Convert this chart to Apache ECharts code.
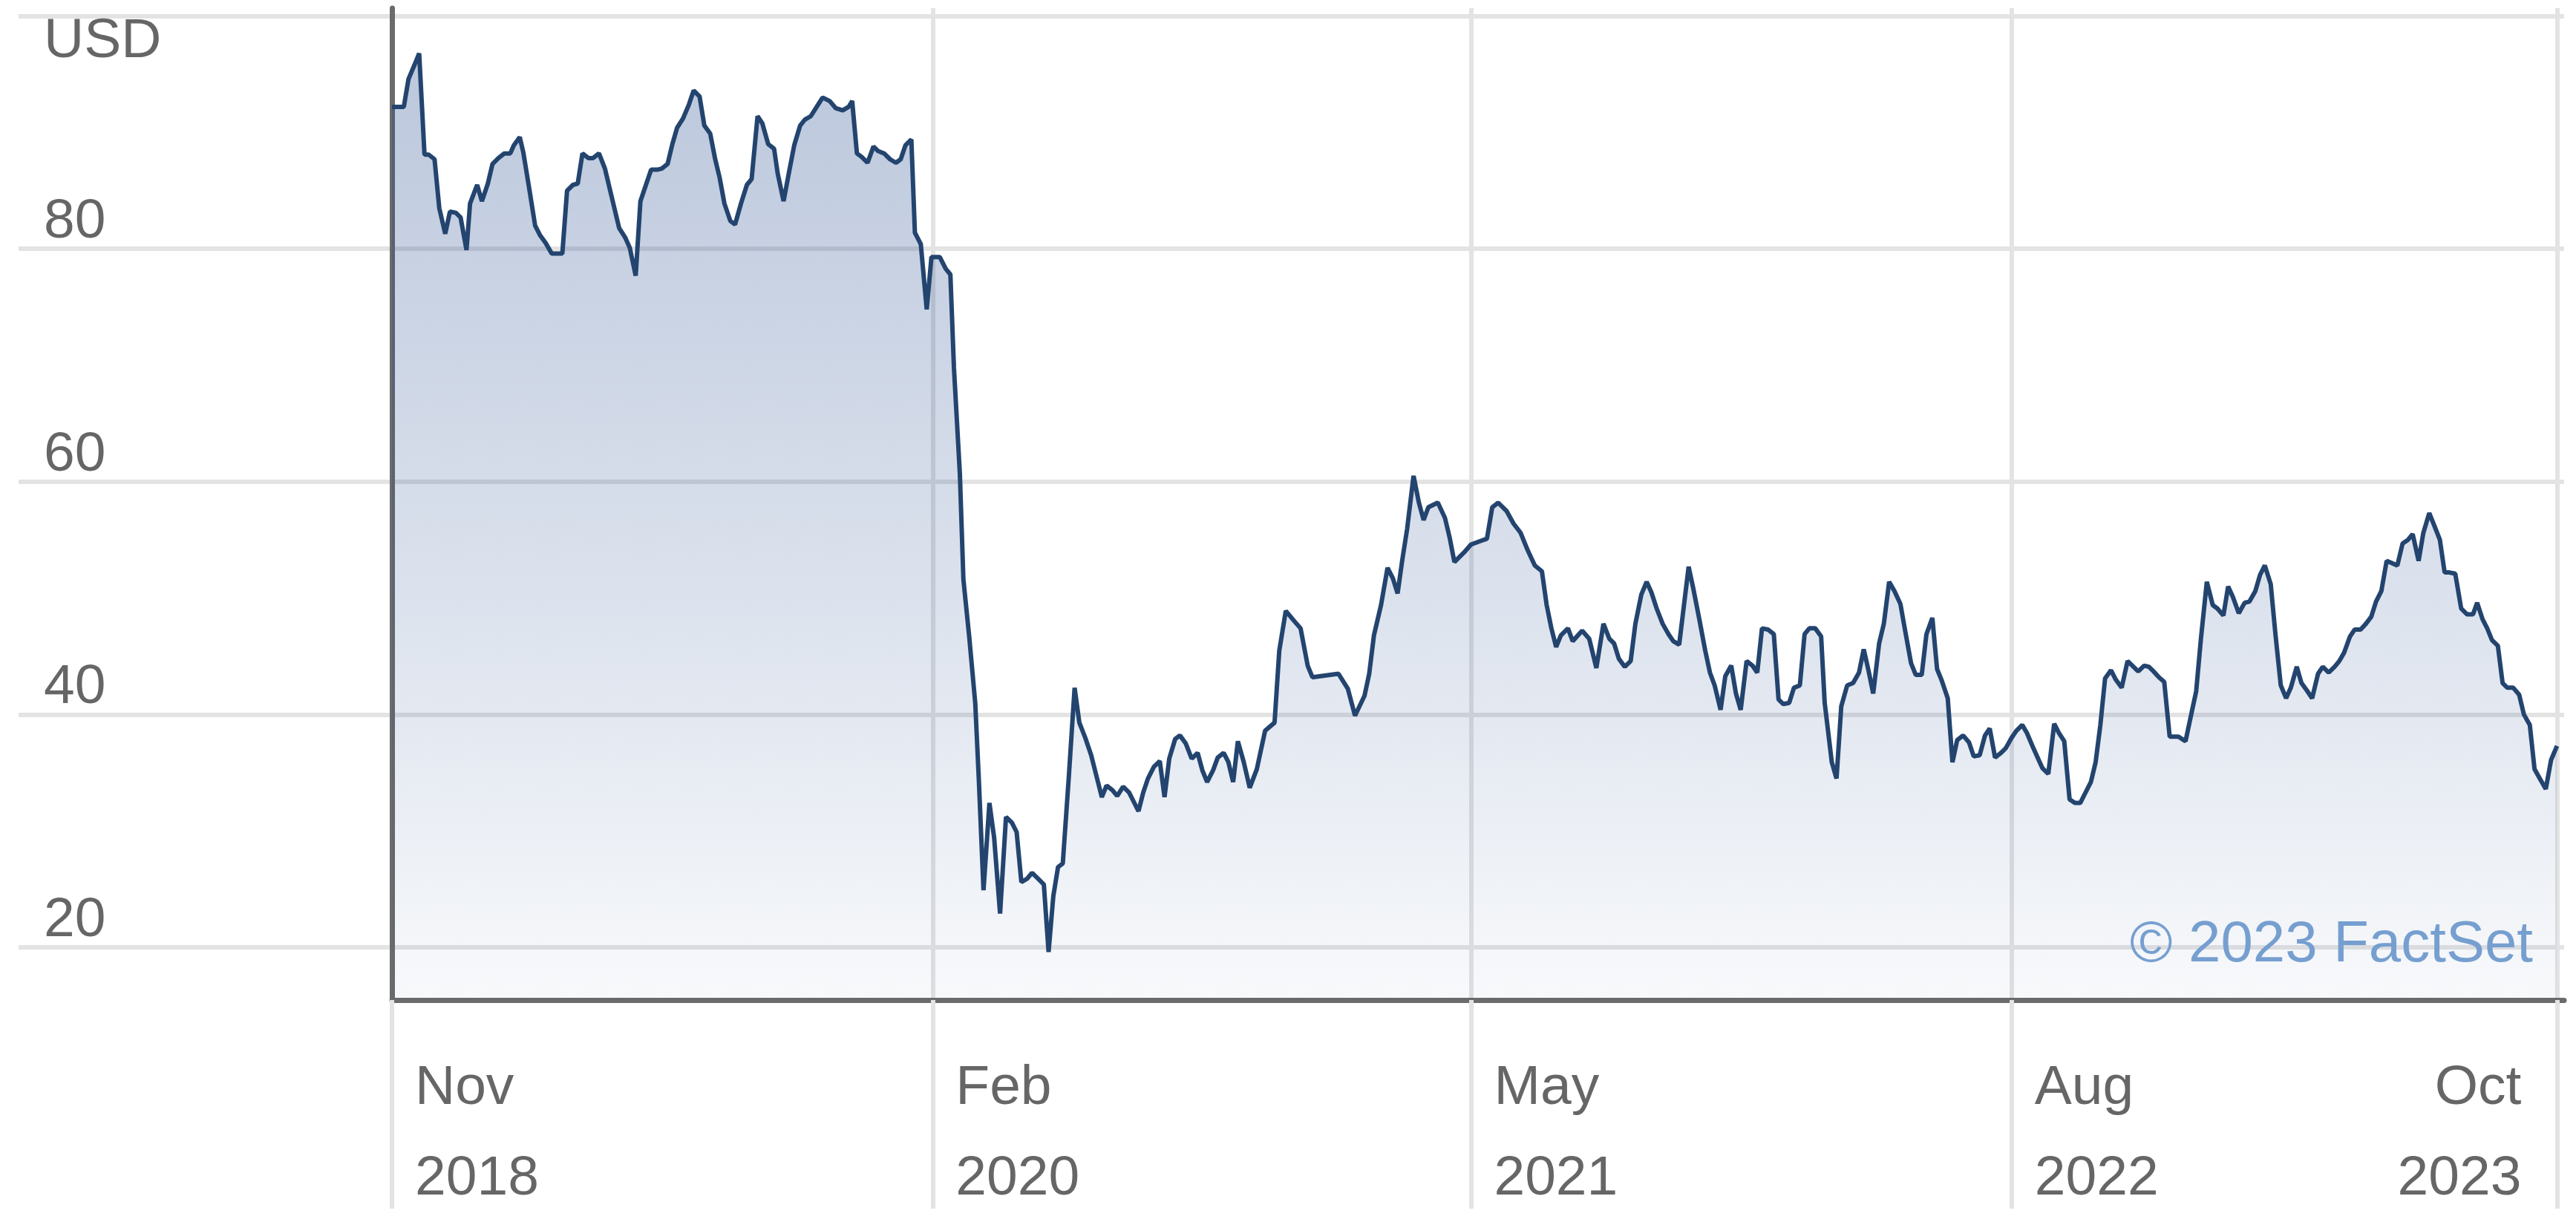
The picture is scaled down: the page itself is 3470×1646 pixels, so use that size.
<!DOCTYPE html>
<html>
<head>
<meta charset="utf-8">
<script src="https://cdn.jsdelivr.net/npm/echarts@6/dist/echarts.min.js"></script>
<style>
html,body{margin:0;padding:0;background:#ffffff;}
#chart{width:3470px;height:1646px;}
</style>
</head>
<body>
<div id="chart"></div>
<script>
// ---- axis ticks / labels ----
const xTickDays   = [0, 457, 912, 1369];              // days after 1 Nov 2018
const xTickLabels = ['Nov\n2018', 'Feb\n2020', 'May\n2021', 'Aug\n2022'];
const xEndDay     = 1830;
const xEndLabel   = 'Oct\n2023';
const yTicks      = [20, 40, 60, 80];
const yUnitTick   = 100;
const yUnitLabel  = 'USD';
const creditText  = '\u00A9 2023 FactSet';

// ---- price series: [days after 1 Nov 2018, USD] ----
const prices2019 = [[0,92.2],[10,92.2],[14,94.6],[19,95.8],[23,96.8],[27.5,88.1],[31,88.1],[36,87.7],[40,83.5],[45,81.3],[49,83.2],[54,83.1],[58,82.7],[63,79.9],[66,83.9],[72,85.5],[76,84.1],[81,85.6],[85,87.3],[90,87.8],[95,88.2],[100,88.2],[103,88.9],[108,89.6],[111,88.3],[116,85.2],[121,82.0],[125,81.2],[130,80.5],[135,79.6],[144,79.6],[148,85.0],[153,85.5],[157,85.6],[161,88.2],[166,87.8],[170,87.8],[175,88.2],[180,86.9],[184,85.2],[188,83.5],[192,81.8],[197,81.0],[201,80.1],[206,77.7],[210,84.1],[215,85.6],[219,86.8],[224,86.8],[228,86.9],[233,87.3],[237,89.0],[241,90.4],[246,91.2],[251,92.4],[255,93.6],[260,93.1],[264,90.6],[269,89.9],[273,87.8],[277,86.1],[281,83.9],[286,82.4],[290,82.1],[295,83.9],[300,85.5],[304,86.0],[309,91.4],[313,90.8],[318,89.0],[323,88.6],[326,86.5],[331,84.1],[336,86.8],[340,88.9],[345,90.6],[349,91.1],[354,91.4],[359,92.2],[364,93.0]];
const prices2020 = [[370,92.7],[375,92.1],[381,91.9],[386,92.2],[389,92.7],[393,88.2],[397,87.9],[402,87.4],[407,88.8],[411,88.4],[416,88.2],[421,87.7],[426,87.4],[430,87.7],[434,88.9],[439,89.4],[442,81.4],[447,80.4],[452,74.8],[456,79.3],[463,79.3],[468,78.3],[472,77.8],[475,69.8],[480,60.7],[483,51.6],[488,46.6],[493,41.0],[496,34.5],[500,24.9],[505,32.4],[509,29.4],[514,22.9],[519,31.2],[524,30.7],[528,29.9],[532,25.6],[537,25.9],[541,26.4],[546,25.9],[551,25.4],[555,19.6],[559,24.4],[563,26.9],[567,27.2],[572,34.5],[577,42.3],[581,39.3],[586,38.0],[591,36.5],[596,34.5],[600,32.9],[604,33.9],[609,33.5],[613,33.0],[618,33.8],[623,33.3],[627,32.5],[631,31.7],[635,33.3],[639,34.5],[644,35.5],[649,36.0],[653,32.9],[657,36.2],[662,37.9],[666,38.2],[671,37.5],[676,36.2],[681,36.7],[685,35.2],[689,34.2],[694,35.2],[698,36.3],[703,36.7],[707,35.9],[711,34.2],[715,37.7],[720,35.9],[725,33.7],[731,35.3]];
const prices2021 = [[738,38.6],[746,39.3],[750,45.5],[755.5,48.9],[762,48.1],[768,47.4],[774,44.2],[778,43.2],[800,43.5],[808,42.2],[814,39.9],[822,41.6],[826,43.5],[830,46.8],[836,49.4],[841.5,52.6],[846,51.7],[850,50.4],[854,53.3],[858,55.9],[863.5,60.5],[868,58.2],[872,56.7],[876,57.8],[884,58.2],[890,56.9],[894,55.2],[898,53.1],[906,53.9],[912,54.6],[920,54.9],[925.5,55.1],[930,57.8],[935,58.2],[942,57.5],[948,56.4],[954,55.6],[960,54.1],[966,52.8],[972,52.3],[976,49.4],[980,47.4],[984,45.8],[988,46.8],[994,47.4],[998,46.3],[1006,47.2],[1012,46.5],[1018,44.0],[1024,47.8],[1029,46.5],[1033,46.1],[1037,44.8],[1042,44.1],[1047,44.6],[1051,47.8],[1056,50.3],[1060.5,51.4],[1064.5,50.5],[1069,49.1],[1074,47.8],[1079,46.9],[1083,46.3],[1088,46.0],[1096,52.7],[1100,50.8],[1105,48.2],[1110,45.5],[1114,43.6],[1118,42.5],[1123,40.4],[1127,43.3],[1132,44.2],[1136,41.8],[1140,40.4],[1145,44.6],[1150,44.2],[1154,43.6],[1158,47.4],[1163,47.3],[1168,46.9],[1172,41.3],[1176,40.9],[1181,41.0],[1185,42.3],[1190,42.5],[1194,46.9],[1198,47.4],[1203,47.4],[1208,46.7],[1211,41.0],[1217,35.9],[1221,34.5],[1225,40.7],[1230,42.5],[1235,42.7],[1240,43.6],[1244,45.6],[1248,43.8],[1252,41.8],[1257,46.1],[1261,47.8],[1265.5,51.4],[1270,50.6],[1275,49.5],[1279,47.2],[1284,44.4],[1288,43.4],[1293,43.4],[1297,46.9],[1302,48.3],[1306,43.9],[1310,42.9],[1315,41.4],[1319,35.9],[1323,37.8],[1328,38.2],[1333,37.6],[1337,36.4],[1342,36.5],[1346.5,38.2],[1350.5,38.8],[1355,36.3],[1360,36.7],[1364,37.1],[1369,38.0]];
const prices2023 = [[1373,38.6],[1378,39.1],[1382,38.4],[1387,37.2],[1391,36.3],[1395,35.4],[1400,34.9],[1405,39.2],[1409,38.4],[1413.5,37.7],[1418,32.7],[1422.5,32.4],[1427,32.4],[1431,33.2],[1436,34.2],[1440,35.9],[1444,39.1],[1448,43.1],[1453,43.8],[1457,43.0],[1462,42.3],[1467,44.6],[1472,44.1],[1476,43.7],[1481,44.2],[1485,44.1],[1489,43.7],[1493.5,43.2],[1498,42.8],[1502.6,38.1],[1510,38.1],[1516,37.7],[1521,40.1],[1525,42.0],[1529,46.5],[1534,51.4],[1539,49.4],[1543,49.1],[1548,48.5],[1552,51.0],[1556,50.1],[1561,48.7],[1566,49.6],[1570,49.7],[1575,50.6],[1579,52.0],[1583,52.8],[1588,51.2],[1592,46.9],[1596.5,42.5],[1601,41.4],[1605,42.3],[1610,44.1],[1614,42.7],[1619,42.0],[1623,41.4],[1628,43.5],[1632,44.1],[1637,43.6],[1642,44.1],[1646,44.6],[1650,45.3],[1655,46.7],[1659,47.3],[1664,47.3],[1668.5,47.8],[1673,48.4],[1677,49.7],[1681.5,50.6],[1686,53.2],[1690.5,53.0],[1695,52.8],[1699.5,54.7],[1704,55.0],[1708,55.5],[1713,53.2],[1717,55.6],[1722,57.3],[1726,56.3],[1731,55.0],[1735,52.2],[1739,52.2],[1744,52.1],[1749,49.1],[1754,48.6],[1759,48.6],[1762.5,49.6],[1767,48.2],[1771,47.4],[1775,46.4],[1780,45.9],[1784,42.7],[1788,42.3],[1793,42.3],[1798,41.7],[1802,40.0],[1807,39.1],[1811,35.3],[1816,34.4],[1820.5,33.6],[1825,36.1],[1830,37.3]];

const priceData = [].concat(prices2019, prices2020, prices2021, prices2023);

// ---- styling ----
const FONT = "'Liberation Sans', Arial, Helvetica, sans-serif";
const LABEL_COLOR = '#666666';
const GRID_LINE = { color: '#e3e3e3', width: 6 };
const AXIS_LINE = { color: '#6b6b6b', width: 7 };
const X_MIN = 0, X_MAX = 1836;
const Y_MIN = 15.47, Y_MAX = 100.68;
const labelFont = { color: LABEL_COLOR, fontSize: 75, fontFamily: FONT };

const chart = echarts.init(document.getElementById('chart'), null, { renderer: 'canvas' });

const option = {
  animation: false,
  backgroundColor: '#ffffff',
  title: {
    text: creditText,
    right: 58,
    top: 1234,
    padding: 0,
    textStyle: { color: '#769fd0', fontSize: 78, fontWeight: 'normal', fontFamily: FONT, lineHeight: 78 }
  },
  grid: [
    { left: 528, right: 16, top: 11, bottom: 299, outerBoundsMode: 'none' },
    { left: 25, width: 503, top: 11, bottom: 299, outerBoundsMode: 'none' }
  ],
  xAxis: [
    {
      type: 'value', gridIndex: 0, min: X_MIN, max: X_MAX, position: 'bottom',
      axisLine: { show: true, onZero: false, lineStyle: AXIS_LINE },
      axisTick: { show: true, customValues: xTickDays.concat([xEndDay]), length: 281, inside: false, lineStyle: GRID_LINE },
      splitLine: { show: true, lineStyle: GRID_LINE },
      axisLabel: Object.assign({
        customValues: xTickDays,
        formatter: function (v) { const i = xTickDays.indexOf(v); return i >= 0 ? xTickLabels[i] : ''; },
        align: 'left', verticalAlign: 'top', padding: [0, 0, 0, 31], margin: 58, lineHeight: 122
      }, labelFont)
    },
    {
      type: 'value', gridIndex: 0, min: X_MIN, max: X_MAX, position: 'bottom',
      axisLine: { show: false }, axisTick: { show: false }, splitLine: { show: false },
      axisLabel: Object.assign({
        customValues: [xEndDay],
        formatter: function () { return xEndLabel; },
        align: 'right', verticalAlign: 'top', padding: [0, 48, 0, 0], margin: 58, lineHeight: 122,
        showMaxLabel: true, showMinLabel: true
      }, labelFont)
    },
    { type: 'value', gridIndex: 1, min: 0, max: 1, show: false }
  ],
  yAxis: [
    {
      type: 'value', gridIndex: 0, min: Y_MIN, max: Y_MAX, position: 'left',
      axisLine: { show: true, onZero: false, lineStyle: AXIS_LINE },
      axisTick: { show: false, customValues: yTicks.concat([yUnitTick]) },
      axisLabel: { show: false, customValues: yTicks.concat([yUnitTick]) },
      splitLine: { show: true, lineStyle: GRID_LINE }
    },
    {
      type: 'value', gridIndex: 1, min: Y_MIN, max: Y_MAX, position: 'left',
      axisLine: { show: false },
      axisTick: { show: false, customValues: yTicks.concat([yUnitTick]) },
      splitLine: { show: true, lineStyle: GRID_LINE },
      axisLabel: Object.assign({
        inside: true, customValues: yTicks, margin: 34,
        align: 'left', verticalAlign: 'bottom', lineHeight: 72
      }, labelFont)
    },
    {
      type: 'value', gridIndex: 1, min: Y_MIN, max: Y_MAX, position: 'left',
      axisLine: { show: false },
      axisTick: { show: false, customValues: [yUnitTick] },
      splitLine: { show: false },
      axisLabel: Object.assign({
        inside: true, customValues: [yUnitTick], margin: 34,
        formatter: function () { return yUnitLabel; },
        align: 'left', verticalAlign: 'top', lineHeight: 69, showMaxLabel: true
      }, labelFont)
    }
  ],
  series: [
    {
      type: 'line', xAxisIndex: 0, yAxisIndex: 0,
      data: priceData,
      showSymbol: false, symbol: 'none', smooth: false,
      lineStyle: { color: '#23446e', width: 6 },
      areaStyle: {
        origin: 'start',
        opacity: 1,
        color: {
          type: 'linear', x: 0, y: 0, x2: 0, y2: 1,
          colorStops: [
            { offset: 0,    color: 'rgba(30,70,140,0.30)' },
            { offset: 0.45, color: 'rgba(30,70,140,0.19)' },
            { offset: 0.7,  color: 'rgba(30,70,140,0.12)' },
            { offset: 1,    color: 'rgba(30,70,140,0.03)' }
          ]
        }
      }
    }
  ]
};

chart.setOption(option);
</script>
</body>
</html>
